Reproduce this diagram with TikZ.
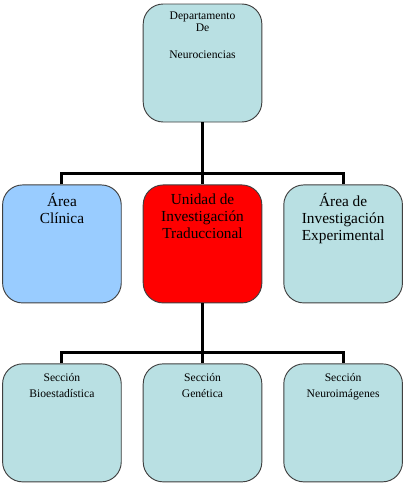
\documentclass[tikz,border=0pt]{standalone}
\usepackage{fontspec}
\setmainfont{Liberation Serif}
\usetikzlibrary{positioning,calc}
\definecolor{cajaTeal}{RGB}{185,224,227}
\definecolor{cajaAzul}{RGB}{153,204,255}
\definecolor{cajaRoja}{RGB}{255,0,0}

\tikzset{
  caja/.style={draw=black!75, line width=0.7pt, rounded corners=15pt,
    minimum width=89pt, minimum height=88.5pt, inner sep=0pt, fill=cajaTeal},
  textoGrande/.style={anchor=north, align=center, inner sep=0pt,
    font=\fontsize{11.5}{12.75}\selectfont},
  textoChico/.style={anchor=north, align=center, inner sep=0pt,
    font=\fontsize{8.7}{12}\selectfont},
  enlace/.style={line width=2.3pt}
}

\begin{document}
\begin{tikzpicture}
    % fixed frame, same margins as the reference
    \useasboundingbox (-151.9pt,47.25pt) rectangle (153.4pt,-317.25pt);
    % top box
    \node[caja] (dep) at (0,0) {};
    \node[textoChico, font=\fontsize{8.7}{9.3}\selectfont] (dep-t) at ([yshift=-6pt]dep.north)
      {Departamento\\De\\[11pt]Neurociencias};
    % second level
    \node[caja, fill=cajaRoja, below=46.5pt of dep] (uit) {};
    \node[caja, fill=cajaAzul, left=15.75pt of uit] (clin) {};
    \node[caja, right=15.75pt of uit] (exp) {};
    \node[textoGrande] (uit-t) at ([yshift=-6.5pt]uit.north) {Unidad de\\Investigación\\Traduccional};
    \node[textoGrande] (clin-t) at ([yshift=-6.5pt]clin.north) {Área\\Clínica};
    \node[textoGrande] (exp-t) at ([yshift=-6.5pt]exp.north) {Área de\\Investigación\\Experimental};
    % third level
    \node[caja, below=45pt of uit] (gen) {};
    \node[caja, left=15.75pt of gen] (bio) {};
    \node[caja, right=15.75pt of gen] (neu) {};
    \node[textoChico] (gen-t) at ([yshift=-7pt]gen.north) {Sección\\Genética};
    \node[textoChico] (bio-t) at ([yshift=-7pt]bio.north) {Sección\\Bioestadística};
    \node[textoChico] (neu-t) at ([yshift=-7pt]neu.north) {Sección\\Neuroimágenes};
    % connectors
    \coordinate (barra1) at ($(dep.south)!0.82!(uit.north)$);
    \coordinate (barra2) at ($(uit.south)!0.82!(gen.north)$);
    \draw[enlace] (dep.south) -- (uit.north);
    \draw[enlace] (clin.north) |- (barra1) -| (exp.north);
    \draw[enlace] (uit.south) -- (gen.north);
    \draw[enlace] (bio.north) |- (barra2) -| (neu.north);
\end{tikzpicture}
\end{document}
